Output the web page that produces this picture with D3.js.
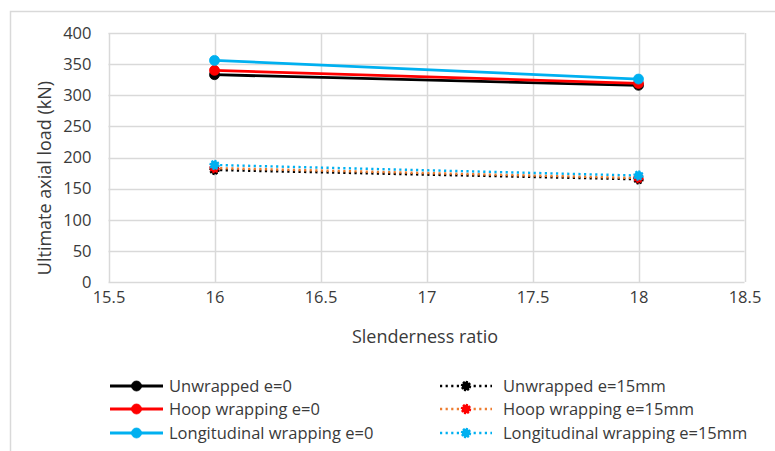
<!DOCTYPE html>
<html>
<head>
<meta charset="utf-8">
<script src="https://cdn.jsdelivr.net/npm/d3@7"></script>
<style>
  html, body { margin: 0; padding: 0; background: #fff; }
  svg { display: block; }
  text { font-family: "Open Sans", "Liberation Sans", sans-serif; fill: #3a3a3a; }
</style>
</head>
<body>
<svg id="chart" width="775" height="451"></svg>
<script>
// Slenderness ratios tested
const slenderness = [16, 18];

// Ultimate axial load (kN) per specimen group
const unwrappedE0 = [333, 316];
const hoopE0 = [340, 319];
const longitudinalE0 = [356, 326];
const unwrappedE15 = [180, 165];
const hoopE15 = [183, 167];
const longitudinalE15 = [188, 171];

// Axis ticks
const xTicks = [15.5, 16, 16.5, 17, 17.5, 18, 18.5];
const yTicks = [0, 50, 100, 150, 200, 250, 300, 350, 400];

const seriesNames = [
  "Unwrapped e=0", "Hoop wrapping e=0", "Longitudinal wrapping e=0",
  "Unwrapped e=15mm", "Hoop wrapping e=15mm", "Longitudinal wrapping e=15mm"
];

const series = [
  { name: seriesNames[0], values: unwrappedE0, line: "#000000", marker: "#000000", dotted: false },
  { name: seriesNames[1], values: hoopE0, line: "#FF0000", marker: "#FF0000", dotted: false },
  { name: seriesNames[2], values: longitudinalE0, line: "#00B0F0", marker: "#00B0F0", dotted: false },
  { name: seriesNames[3], values: unwrappedE15, line: "#000000", marker: "#000000", dotted: true },
  { name: seriesNames[4], values: hoopE15, line: "#ED7D31", marker: "#FF0000", dotted: true },
  { name: seriesNames[5], values: longitudinalE15, line: "#00B0F0", marker: "#00B0F0", dotted: true }
];

const svg = d3.select("#chart");

// Chart area frame
svg.append("rect")
  .attr("x", 10.5).attr("y", 11.5)
  .attr("width", 800).attr("height", 500)
  .attr("fill", "none").attr("stroke", "#d9d9d9").attr("stroke-width", 1.5);

const plot = { left: 108.5, right: 744.5, top: 33, bottom: 282 };

const x = d3.scaleLinear().domain([15.5, 18.5]).range([plot.left, plot.right]);
const y = d3.scaleLinear().domain([0, 400]).range([plot.bottom, plot.top]);

// Gridlines
const grid = svg.append("g");
grid.selectAll("line.h").data(yTicks).join("line")
  .attr("class", "h")
  .attr("x1", plot.left).attr("x2", plot.right)
  .attr("y1", d => Math.round(y(d)) + 0.5).attr("y2", d => Math.round(y(d)) + 0.5)
  .attr("stroke", "#d9d9d9").attr("stroke-width", 1.5);
grid.selectAll("line.v").data(xTicks).join("line")
  .attr("class", "v")
  .attr("y1", plot.top).attr("y2", plot.bottom)
  .attr("x1", d => Math.round(x(d)) + 0.5).attr("x2", d => Math.round(x(d)) + 0.5)
  .attr("stroke", "#d9d9d9").attr("stroke-width", 1.5);

// Axes (labels only; the grid draws the frame)
const tickFont = 16.5;
const yAxis = svg.append("g")
  .attr("transform", `translate(${plot.left - 17},0)`)
  .call(d3.axisLeft(y).tickValues(yTicks).tickSize(0).tickPadding(0));
yAxis.select(".domain").remove();
yAxis.selectAll("text")
  .style("font-family", "'Open Sans', sans-serif")
  .attr("font-size", tickFont).attr("fill", "#3a3a3a");

const xAxis = svg.append("g")
  .attr("transform", `translate(0,${plot.bottom + 9})`)
  .call(d3.axisBottom(x).tickValues(xTicks).tickSize(0).tickPadding(0).tickFormat(d3.format("")));
xAxis.select(".domain").remove();
xAxis.selectAll("text")
  .style("font-family", "'Open Sans', sans-serif")
  .attr("font-size", tickFont).attr("fill", "#3a3a3a");

// Axis titles
svg.append("text")
  .attr("x", 425).attr("y", 343)
  .attr("text-anchor", "middle").attr("font-size", 18).attr("fill", "#3a3a3a")
  .text("Slenderness ratio");

svg.append("text")
  .attr("transform", "translate(51,178) rotate(-90)")
  .attr("text-anchor", "middle").attr("font-size", 18).attr("fill", "#3a3a3a")
  .text("Ultimate axial load (kN)");

// Series lines and markers
const lineGen = d3.line().x(d => x(d[0])).y(d => y(d[1]));

function drawMarker(g, cx, cy, s) {
  const c = g.append("circle")
    .attr("cx", cx).attr("cy", cy).attr("r", 5)
    .attr("fill", s.marker);
  if (s.dotted) {
    c.attr("r", 4.2).attr("stroke", s.marker).attr("stroke-width", 2)
      .attr("stroke-dasharray", "2,1.2");
  } else {
    c.attr("stroke", s.marker).attr("stroke-width", 0.8);
  }
}

const marks = svg.append("g");
series.forEach(s => {
  const pts = slenderness.map((v, i) => [v, s.values[i]]);
  marks.append("path")
    .attr("d", lineGen(pts))
    .attr("fill", "none")
    .attr("stroke", s.line)
    .attr("stroke-width", s.dotted ? 2.4 : 2.8)
    .attr("stroke-dasharray", s.dotted ? "2.2,3.4" : null);
  pts.forEach(p => drawMarker(marks, x(p[0]), y(p[1]), s));
});

// Legend
const legendCols = [
  { x0: 110, x1: 163, tx: 169 },
  { x0: 440, x1: 492, tx: 503 }
];
const legendRows = [386, 409, 433];
const legend = svg.append("g");
series.forEach((s, i) => {
  const col = legendCols[Math.floor(i / 3)];
  const ry = legendRows[i % 3];
  legend.append("line")
    .attr("x1", col.x0).attr("x2", col.x1).attr("y1", ry).attr("y2", ry)
    .attr("stroke", s.line)
    .attr("stroke-width", s.dotted ? 2.4 : 2.8)
    .attr("stroke-dasharray", s.dotted ? "2.2,3.4" : null);
  drawMarker(legend, (col.x0 + col.x1) / 2, ry, s);
  legend.append("text")
    .attr("x", col.tx).attr("y", ry).attr("dy", "0.35em")
    .attr("font-size", 16.5).attr("fill", "#3a3a3a")
    .text(s.name);
});
</script>
</body>
</html>
